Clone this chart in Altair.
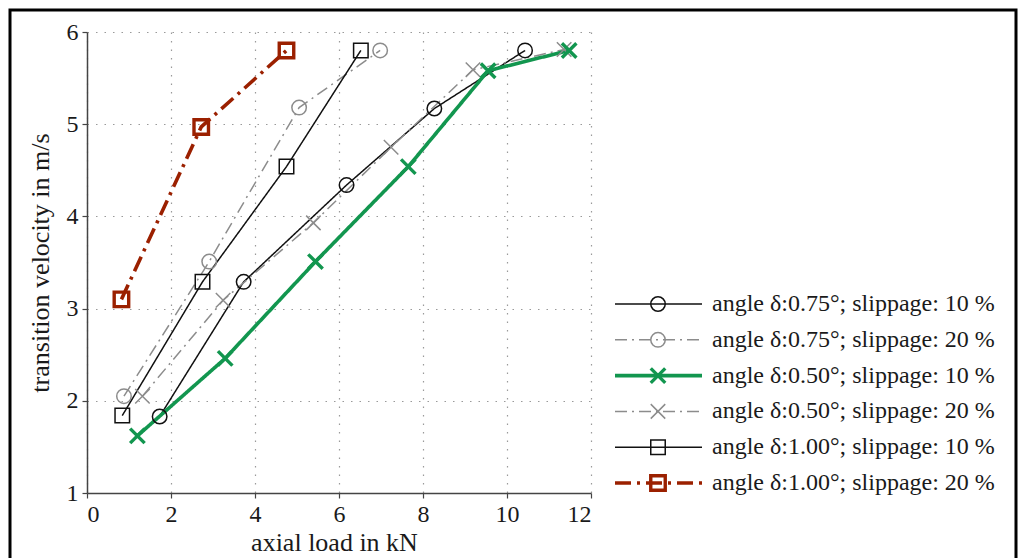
import altair as alt
import pandas as pd

# ---- data ----
series = [
    "angle δ:0.75°; slippage: 10 %",
    "angle δ:0.75°; slippage: 20 %",
    "angle δ:0.50°; slippage: 10 %",
    "angle δ:0.50°; slippage: 20 %",
    "angle δ:1.00°; slippage: 10 %",
    "angle δ:1.00°; slippage: 20 %",
]
load_075_10 = [1.73, 3.73, 6.18, 8.27, 10.43]
vel_075_10 = [1.83, 3.29, 4.34, 5.17, 5.80]
load_075_20 = [0.88, 2.91, 5.05, 6.98]
vel_075_20 = [2.05, 3.51, 5.18, 5.80]
load_050_10 = [1.20, 3.29, 5.44, 7.65, 9.55, 11.48]
vel_050_10 = [1.62, 2.46, 3.51, 4.54, 5.58, 5.80]
load_050_20 = [1.32, 3.24, 5.39, 7.24, 9.19, 11.36]
vel_050_20 = [2.05, 3.09, 3.93, 4.75, 5.59, 5.81]
load_100_10 = [0.84, 2.75, 4.75, 6.52]
vel_100_10 = [1.84, 3.29, 4.54, 5.80]
load_100_20 = [0.82, 2.72, 4.75]
vel_100_20 = [3.10, 4.97, 5.80]

x_ticks = [0, 2, 4, 6, 8, 10, 12]
y_ticks = [1, 2, 3, 4, 5, 6]

loads = [load_075_10, load_075_20, load_050_10, load_050_20, load_100_10, load_100_20]
vels = [vel_075_10, vel_075_20, vel_050_10, vel_050_20, vel_100_10, vel_100_20]

rows = []
for name, xs, ys in zip(series, loads, vels):
    for xv, yv in zip(xs, ys):
        rows.append({"series": name, "load": xv, "vel": yv})
df = pd.DataFrame(rows)
leg = pd.DataFrame({"series": series})

# ---- styles ----
FONT = "Liberation Serif"
XPATH = "M-1,-1L1,1M-1,1L1,-1"
colors = ["#111111", "#8c8c8c", "#12964f", "#8c8c8c", "#111111", "#9b2000"]
dashes = [[1, 0], [12, 5, 2, 5], [1, 0], [12, 5, 2, 5], [1, 0], [16, 6, 3, 6]]
shapes = ["circle", "circle", XPATH, XPATH, "square", "square"]
sizes = [210, 210, 90, 100, 150, 120]
thin = [series[0], series[1], series[3], series[4]]
thick = [series[2], series[5]]

color_enc = alt.Color("series:N", scale=alt.Scale(domain=series, range=colors), legend=None)
dash_enc = alt.StrokeDash("series:N", scale=alt.Scale(domain=series, range=dashes), legend=None)
shape_enc = alt.Shape("series:N", scale=alt.Scale(domain=series, range=shapes), legend=None)
size_enc = alt.Size("series:N", scale=alt.Scale(domain=series, range=sizes), legend=None)

x_enc = alt.X(
    "load:Q",
    scale=alt.Scale(domain=[0, 12], nice=False),
    axis=alt.Axis(values=x_ticks, format="d", title="axial load in kN", titleX=247, titleY=49,
                  titleBaseline="middle"),
)
y_enc = alt.Y(
    "vel:Q",
    scale=alt.Scale(domain=[1, 6], nice=False),
    axis=alt.Axis(values=y_ticks, format="d", title="transition velocity in m/s", titleX=-47,
                  titleY=230.5, titleBaseline="middle"),
)

base = alt.Chart(df)
layers = []
for group, lw in ((thin, 1.5), (thick, 3.6)):
    layers.append(
        base.transform_filter(alt.FieldOneOfPredicate(field="series", oneOf=group))
        .mark_line(strokeWidth=lw)
        .encode(x=x_enc, y=y_enc, color=color_enc, strokeDash=dash_enc)
    )
for group, lw in ((thin, 1.5), (thick, 3.4)):
    layers.append(
        base.transform_filter(alt.FieldOneOfPredicate(field="series", oneOf=group))
        .mark_point(filled=False, opacity=1, strokeWidth=lw)
        .encode(x="load:Q", y="vel:Q", color=color_enc, shape=shape_enc, size=size_enc)
    )
data_layer = alt.layer(*layers)

leg_y = alt.Y("series:N", scale=alt.Scale(type="point", domain=series, range=[272, 451], padding=0),
              axis=None)
lbase = alt.Chart(leg)
leg_layers = []
for group, lw in ((thin, 1.5), (thick, 3.6)):
    leg_layers.append(
        lbase.transform_filter(alt.FieldOneOfPredicate(field="series", oneOf=group))
        .mark_rule(strokeWidth=lw)
        .encode(x=alt.value(528), x2=alt.value(615), y=leg_y, color=color_enc, strokeDash=dash_enc)
    )
for group, lw in ((thin, 1.5), (thick, 3.4)):
    leg_layers.append(
        lbase.transform_filter(alt.FieldOneOfPredicate(field="series", oneOf=group))
        .mark_point(filled=False, opacity=1, strokeWidth=lw)
        .encode(x=alt.value(571), y=leg_y, color=color_enc, shape=shape_enc, size=size_enc)
    )
leg_layers.append(
    lbase.mark_text(align="left", baseline="middle", font=FONT, fontSize=24, color="#1a1a1a")
    .encode(x=alt.value(625), y=leg_y, text="series:N")
)
legend_layer = alt.layer(*leg_layers)

frame = alt.Chart(pd.DataFrame({"f": [0]})).mark_rect(
    fillOpacity=0, stroke="#000000", strokeWidth=3
).encode(x=alt.value(-77), x2=alt.value(929), y=alt.value(-22), y2=alt.value(570))

chart = (
    alt.layer(frame, data_layer, legend_layer)
    .resolve_scale(y="independent")
    .properties(
        width=504,
        height=461,
        autosize=alt.AutoSizeParams(type="none"),
        padding={"left": 79, "top": 24, "right": 427, "bottom": 66},
        background="white",
    )
    .configure_view(strokeWidth=0)
    .configure_axis(
        labelFont=FONT, labelFontSize=24, labelColor="#1a1a1a",
        titleFont=FONT, titleFontSize=26, titleFontWeight="normal", titleColor="#1a1a1a",
        domainColor="#444444", domainWidth=1.5,
        tickColor="#444444", tickSize=5, tickWidth=1.2,
        labelPadding=4,
        gridColor="#9a9a9a", gridDash=[1.5, 7], gridWidth=1.2,
    )
)

chart.save("out.html", embed_options={"renderer": "svg", "actions": False})
